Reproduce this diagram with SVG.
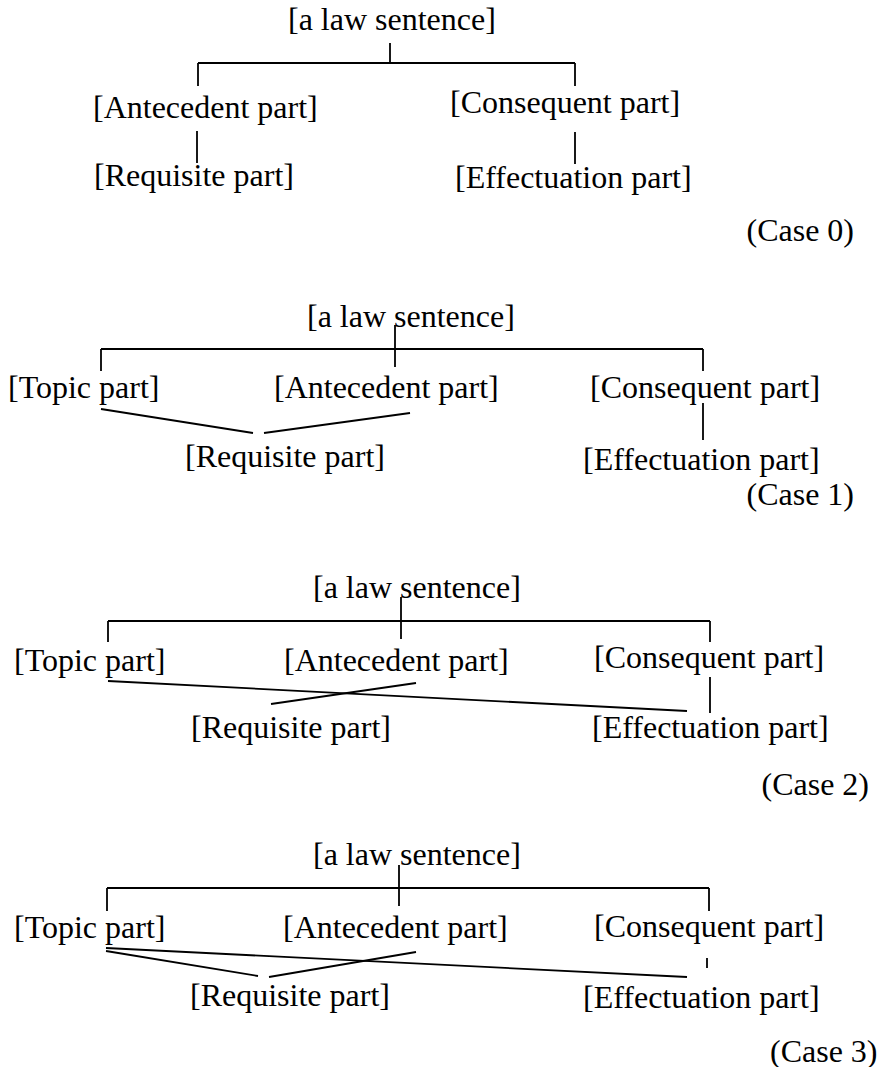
<svg xmlns="http://www.w3.org/2000/svg" width="880" height="1067" viewBox="0 0 880 1067">
<style>
text{font-family:"Liberation Serif","Times New Roman",serif;font-size:32px;fill:#000}
.c line{stroke:#000;stroke-width:1.8;fill:none}
</style>
<rect width="880" height="1067" fill="#fff"/>
<!-- Case 0 -->
<g id="c0-law"><text x="288" y="30">[a law sentence]</text></g>
<g id="c0-ante"><text x="93" y="118">[Antecedent part]</text></g>
<g id="c0-req"><text x="94" y="186">[Requisite part]</text></g>
<g id="c0-cons"><text x="450" y="113">[Consequent part]</text></g>
<g id="c0-eff"><text x="455" y="188">[Effectuation part]</text></g>
<g id="c0-label"><text x="746.5" y="241">(Case 0)</text></g>
<!-- Case 1 -->
<g id="c1-law"><text x="307" y="327">[a law sentence]</text></g>
<g id="c1-topic"><text x="8" y="398">[Topic part]</text></g>
<g id="c1-ante"><text x="274" y="398">[Antecedent part]</text></g>
<g id="c1-req"><text x="185" y="467">[Requisite part]</text></g>
<g id="c1-cons"><text x="590" y="398">[Consequent part]</text></g>
<g id="c1-eff"><text x="583" y="470">[Effectuation part]</text></g>
<g id="c1-label"><text x="746.5" y="505">(Case 1)</text></g>
<!-- Case 2 -->
<g id="c2-law"><text x="313" y="598">[a law sentence]</text></g>
<g id="c2-topic"><text x="14" y="671">[Topic part]</text></g>
<g id="c2-ante"><text x="284" y="671">[Antecedent part]</text></g>
<g id="c2-req"><text x="191" y="738">[Requisite part]</text></g>
<g id="c2-cons"><text x="594" y="668">[Consequent part]</text></g>
<g id="c2-eff"><text x="592" y="738">[Effectuation part]</text></g>
<g id="c2-label"><text x="761.5" y="795">(Case 2)</text></g>
<!-- Case 3 -->
<g id="c3-law"><text x="313" y="865">[a law sentence]</text></g>
<g id="c3-topic"><text x="14" y="938">[Topic part]</text></g>
<g id="c3-ante"><text x="283" y="938">[Antecedent part]</text></g>
<g id="c3-req"><text x="190" y="1006">[Requisite part]</text></g>
<g id="c3-cons"><text x="594" y="937">[Consequent part]</text></g>
<g id="c3-eff"><text x="583" y="1008">[Effectuation part]</text></g>
<g id="c3-label"><text x="770" y="1062">(Case 3)</text></g>
<g id="connectors" class="c">
<!-- case 0 -->
<line x1="390" y1="43" x2="390" y2="63"/>
<line x1="198" y1="63" x2="575" y2="63"/>
<line x1="198" y1="63" x2="198" y2="86"/>
<line x1="575" y1="63" x2="575" y2="86"/>
<line x1="197" y1="131" x2="197" y2="163"/>
<line x1="575" y1="132" x2="575" y2="164"/>
<!-- case 1 -->
<line x1="395" y1="325" x2="395" y2="367"/>
<line x1="101" y1="349" x2="703" y2="349"/>
<line x1="101" y1="349" x2="101" y2="371"/>
<line x1="703" y1="349" x2="703" y2="371"/>
<line x1="101" y1="409" x2="253" y2="433"/>
<line x1="410" y1="413" x2="264" y2="433"/>
<line x1="703" y1="403" x2="703" y2="440"/>
<!-- case 2 -->
<line x1="401" y1="597" x2="401" y2="639"/>
<line x1="108" y1="621" x2="710" y2="621"/>
<line x1="108" y1="621" x2="108" y2="642"/>
<line x1="710" y1="621" x2="710" y2="642"/>
<line x1="108" y1="681" x2="687" y2="711"/>
<line x1="416" y1="683" x2="271" y2="704"/>
<line x1="710" y1="677" x2="710" y2="713"/>
<!-- case 3 -->
<line x1="399" y1="865" x2="399" y2="906"/>
<line x1="107" y1="888" x2="709" y2="888"/>
<line x1="107" y1="888" x2="107" y2="911"/>
<line x1="709" y1="888" x2="709" y2="911"/>
<line x1="106" y1="948" x2="687" y2="977"/>
<line x1="106" y1="951" x2="258" y2="976"/>
<line x1="416" y1="952" x2="269" y2="977"/>
<line x1="707" y1="958" x2="707" y2="968"/>
</g>
</svg>
